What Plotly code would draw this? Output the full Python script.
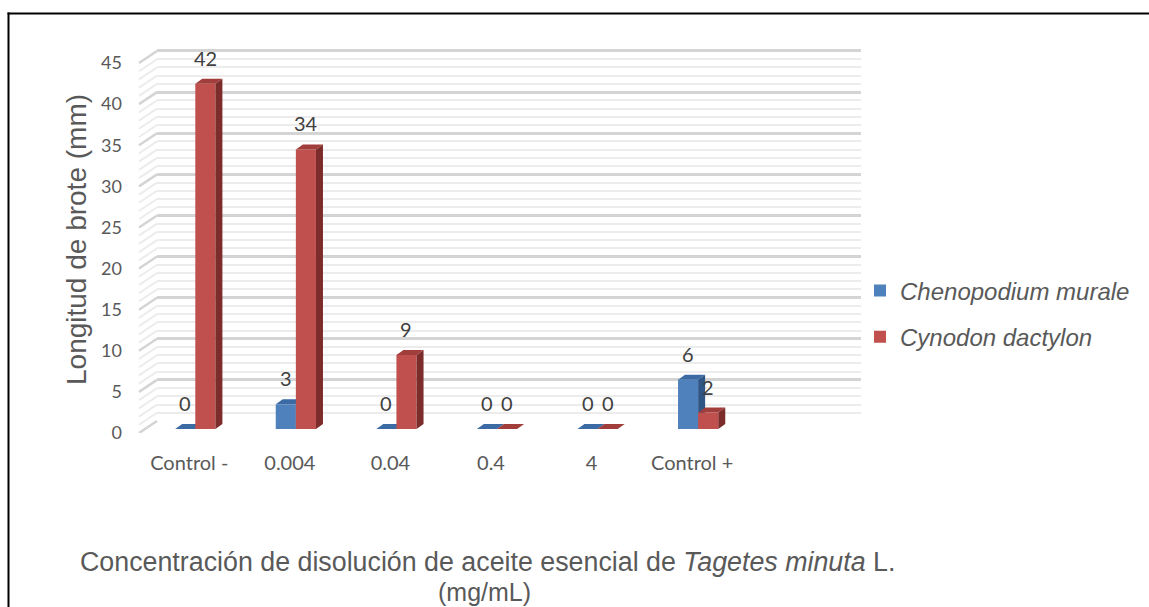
import plotly.graph_objects as go

# ---------------- data ----------------
categories = ["Control -", "0.004", "0.04", "0.4", "4", "Control +"]
chenopodium = [0, 3, 0, 0, 0, 6]
cynodon = [42, 34, 9, 0, 0, 2]
y_ticks = [0, 5, 10, 15, 20, 25, 30, 35, 40, 45]
series_names = ["<i>Chenopodium murale</i>", "<i>Cynodon dactylon</i>"]

# ---------------- geometry / style ----------------
W, H = 1149, 607
PLOT_R = 862                     # px: right edge of the plotting region (legend sits right of it)
N_SLOTS = 7                      # 6 categories + empty slot (Excel 3D layout)
FRONT_L, FRONT_R = 139, 843      # px, front plane of category axis
FRONT_B, FRONT_T45 = 433, 63     # px, value 0 and 45 on front plane
PXU_X = (FRONT_R - FRONT_L) / N_SLOTS
PXU_Y = (FRONT_B - FRONT_T45) / 45.0
XR = [-0.5, 6.5]
YR = [0, 47]
XR_SIDE = [-0.7, 6.5]
BACK_SHIFT = (18, -12)           # px offset of back wall
BAR_SHIFT = (6, -4)              # px offset of bar plane
BAR_W = 0.2
DEPTH_X = 7 / PXU_X
DEPTH_Y = 5 / PXU_Y

def fx(px):
    return px / PLOT_R

def fy(py):
    return (H - py) / H

def xdom(shift, xr=XR):
    l = FRONT_L + shift + (xr[0] + 0.5) * PXU_X
    r = FRONT_L + shift + (xr[1] + 0.5) * PXU_X
    return [max(0.0, fx(l)), min(1.0, fx(r))]

def ydom(shift):
    b = FRONT_B + shift - YR[0] * PXU_Y
    t = FRONT_B + shift - YR[1] * PXU_Y
    return [fy(b), fy(t)]

GRID_MAJ = "#d4d4d4"
GRID_MIN = "#ececec"
TXT = "#595959"
LBL = "#404040"

colors = [
    dict(front="#4f81bd", side="#2f5584", top="#3b6aa4"),
    dict(front="#c0504d", side="#7c2d2b", top="#a13d3a"),
]

fig = go.Figure()

# --- back wall gridlines (axis x2/y2) : empty helper trace to activate axes
fig.add_trace(go.Scatter(x=[None], y=[None], xaxis="x2", yaxis="y2",
                         showlegend=False, hoverinfo="skip"))

# --- side wall diagonal lines (axis x5/y5)
dx_back = BACK_SHIFT[0] / PXU_X
dy_back = -BACK_SHIFT[1] / PXU_Y
for is_major in (False, True):
    xs, ys = [], []
    for v in range(0, 46):
        if (v % 5 == 0) != is_major:
            continue
        xs += [-0.5, -0.5 + dx_back, None]
        ys += [v, v + dy_back, None]
    fig.add_trace(go.Scatter(
        x=xs, y=ys, mode="lines", xaxis="x5", yaxis="y5",
        line=dict(color=GRID_MAJ if is_major else GRID_MIN,
                  width=2.5 if is_major else 2),
        showlegend=False, hoverinfo="skip"))

# --- front axis helper trace (labels only)
fig.add_trace(go.Scatter(x=[None], y=[None], xaxis="x", yaxis="y",
                         showlegend=False, hoverinfo="skip"))

# --- bars: blue on x3/y3, red on x4/y4 (overlaid, drawn on top)
axes_pairs = [("x3", "y3"), ("x4", "y4")]
offsets = [-BAR_W, 0.0]
for s, (vals, name) in enumerate(zip([chenopodium, cynodon], series_names)):
    xa, ya = axes_pairs[s]
    c = colors[s]
    xs = list(range(len(categories)))
    fig.add_trace(go.Bar(
        x=xs, y=vals, width=BAR_W, offset=offsets[s],
        marker=dict(color=c["front"], line=dict(width=0)),
        name=name, xaxis=xa, yaxis=ya, legendgroup=name,
        hoverinfo="skip"))
    side_x, side_y, top_x, top_y = [], [], [], []
    for i, v in enumerate(vals):
        x0 = i + offsets[s]
        x1 = x0 + BAR_W
        side_x += [x1, x1, x1 + DEPTH_X, x1 + DEPTH_X, x1, None]
        side_y += [0, v, v + DEPTH_Y, DEPTH_Y, 0, None]
        top_x += [x0, x1, x1 + DEPTH_X, x0 + DEPTH_X, x0, None]
        top_y += [v, v, v + DEPTH_Y, v + DEPTH_Y, v, None]
    fig.add_trace(go.Scatter(x=side_x, y=side_y, fill="toself", mode="lines",
                             line=dict(width=0, color=c["side"]), fillcolor=c["side"],
                             xaxis=xa, yaxis=ya, showlegend=False, hoverinfo="skip"))
    fig.add_trace(go.Scatter(x=top_x, y=top_y, fill="toself", mode="lines",
                             line=dict(width=0, color=c["top"]), fillcolor=c["top"],
                             xaxis=xa, yaxis=ya, showlegend=False, hoverinfo="skip"))

# --- data labels
annotations = []
for s, vals in enumerate([chenopodium, cynodon]):
    xa, ya = axes_pairs[s]
    for i, v in enumerate(vals):
        annotations.append(dict(
            x=i + offsets[s] + BAR_W / 2, y=v, xref=xa, yref=ya,
            text=str(v), showarrow=False, yshift=26,
            xanchor="center", yanchor="middle",
            font=dict(family="Lato", size=20, color=LBL)))

# --- axis titles
annotations.append(dict(
    x=fx(76), y=fy(240), xref="paper", yref="paper",
    xanchor="center", yanchor="middle",
    text="Longitud de brote (mm)", textangle=-90, showarrow=False,
    font=dict(family="Liberation Sans", size=28, color=TXT)))
annotations.append(dict(
    x=fx(487), y=fy(562), xref="paper", yref="paper",
    xanchor="center", yanchor="middle",
    text="Concentración de disolución de aceite esencial de <i>Tagetes minuta</i> L.",
    showarrow=False,
    font=dict(family="Liberation Sans", size=26.8, color=TXT)))
annotations.append(dict(
    x=fx(484), y=fy(592), xref="paper", yref="paper",
    xanchor="center", yanchor="middle",
    text="(mg/mL)", showarrow=False,
    font=dict(family="Liberation Sans", size=25, color=TXT)))

hidden = dict(showgrid=False, zeroline=False, showline=False, automargin=False,
              showticklabels=False, ticks="", fixedrange=True)

fig.update_layout(
    width=W, height=H, autosize=False,
    margin=dict(l=0, r=W - PLOT_R, t=0, b=0, pad=0),
    paper_bgcolor="white", plot_bgcolor="rgba(0,0,0,0)",
    barmode="overlay",
    showlegend=True,
    legend=dict(x=fx(860), y=fy(314), xanchor="left", yanchor="middle",
                font=dict(family="Liberation Sans", size=24, color=TXT),
                tracegroupgap=12, bgcolor="rgba(0,0,0,0)", borderwidth=0),
    xaxis=dict(domain=xdom(0), range=XR, tickmode="array",
               tickvals=list(range(len(categories))), ticktext=categories,
               showgrid=False, zeroline=False, showline=False, ticks="",
               automargin=False, ticklabelstandoff=16, fixedrange=True,
               tickfont=dict(family="Lato", size=20, color=TXT)),
    yaxis=dict(domain=ydom(0), range=YR, tickmode="array", tickvals=y_ticks,
               showgrid=False, zeroline=False, showline=False, ticks="",
               automargin=False, ticklabelstandoff=16, fixedrange=True,
               tickfont=dict(family="Lato", size=18, color=TXT)),
    xaxis2=dict(domain=xdom(BACK_SHIFT[0]), range=XR, anchor="y2", **hidden),
    yaxis2=dict(domain=ydom(BACK_SHIFT[1]), range=YR, anchor="x2",
                tickmode="array", tickvals=y_ticks, automargin=False,
                showgrid=True, gridcolor=GRID_MAJ, gridwidth=2.5,
                zeroline=False, showline=False, showticklabels=False, ticks="",
                fixedrange=True,
                minor=dict(tickmode="array",
                           tickvals=[v for v in range(46) if v % 5],
                           showgrid=True, gridcolor=GRID_MIN, gridwidth=2, ticks="")),
    xaxis3=dict(domain=xdom(BAR_SHIFT[0]), range=XR, anchor="y3", **hidden),
    yaxis3=dict(domain=ydom(BAR_SHIFT[1]), range=YR, anchor="x3", **hidden),
    xaxis4=dict(domain=xdom(BAR_SHIFT[0]), range=XR, anchor="y4", overlaying="x3", **hidden),
    yaxis4=dict(domain=ydom(BAR_SHIFT[1]), range=YR, anchor="x4", overlaying="y3", **hidden),
    xaxis5=dict(domain=xdom(0, XR_SIDE), range=XR_SIDE, anchor="y5", **hidden),
    yaxis5=dict(domain=ydom(0), range=YR, anchor="x5", **hidden),
    annotations=annotations,
    shapes=[
        dict(type="line", xref="paper", yref="paper",
             x0=fx(7.5), x1=fx(W + 1), y0=fy(13.5), y1=fy(13.5),
             line=dict(color="black", width=2), layer="above"),
        dict(type="line", xref="paper", yref="paper",
             x0=fx(8.5), x1=fx(8.5), y0=fy(12.5), y1=fy(H + 1),
             line=dict(color="black", width=2), layer="above"),
    ],
)

fig.write_html(
    "out.html",
    config={"displayModeBar": False, "responsive": False},
    post_script="document.body.style.margin='0';document.body.style.overflow='hidden';",
)
